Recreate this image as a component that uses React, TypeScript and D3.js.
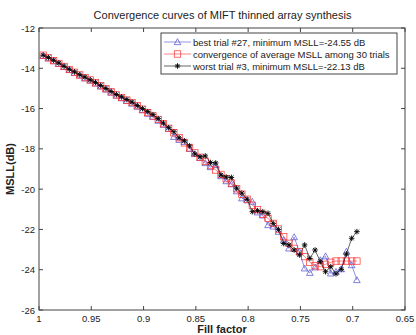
import React from "react";
import * as d3 from "d3";

const fillStart = 0.996;
const fillStep = 0.005;

const averageMSLL = [
  -13.35, -13.48, -13.62, -13.76, -13.91, -14.06, -14.2, -14.33, -14.46, -14.58,
  -14.72, -14.86, -15.01, -15.17, -15.32, -15.45, -15.58, -15.7, -15.86, -16.03,
  -16.2, -16.37, -16.54, -16.75, -16.98, -17.2, -17.45, -17.7, -17.95, -18.2,
  -18.42, -18.62, -18.83, -19.05, -19.27, -19.48, -19.7, -19.98, -20.25, -20.5,
  -20.8, -21.02, -21.25, -21.45, -21.7, -21.98, -22.36, -22.69, -22.94, -23.1,
  -23.35, -23.63, -23.8, -23.85, -23.73, -23.63, -23.57, -23.57, -23.57, -23.57,
  -23.57,
];

const bestMSLL = [
  -13.38, -13.5, -13.64, -13.78, -13.93, -14.08, -14.22, -14.35, -14.5, -14.6,
  -14.75, -14.9, -15.05, -15.2, -15.35, -15.48, -15.62, -15.75, -15.9, -16.08,
  -16.25, -16.4, -16.6, -16.8, -17.0, -17.4, -17.55, -17.65, -18.0, -18.25,
  -18.45, -18.7, -18.9, -18.8, -19.35, -19.6, -19.75, -20.1, -20.45, -20.55,
  -20.62, -21.15, -21.3, -21.78, -21.85, -22.11, -22.53, -22.94, -22.38, -23.1,
  -23.93, -24.15, -23.88, -23.52, -23.33, -24.18, -24.1, -23.97, -23.1, -23.77,
  -24.51,
];

const worstMSLL = [
  -13.35, -13.47, -13.6, -13.74, -13.9, -14.05, -14.18, -14.32, -14.44, -14.58,
  -14.7, -14.85, -15.0, -15.15, -15.3, -15.42, -15.55, -15.68, -15.85, -16.0,
  -16.15, -16.3, -16.5, -16.72, -16.95, -17.15, -17.45, -17.6, -17.85, -18.25,
  -18.4, -18.35, -18.68, -18.7, -19.3, -19.4, -19.42, -19.95, -20.2, -20.5,
  -21.12, -21.07, -21.12, -21.2, -21.7, -22.0, -22.7, -22.77, -23.02, -23.27,
  -22.77, -23.44, -23.02, -23.6, -24.1, -23.85, -24.2, -23.98, -23.22, -22.44,
  -22.11,
];

const xTicks = [1, 0.95, 0.9, 0.85, 0.8, 0.75, 0.7, 0.65];
const xTickLabels = ["1", "0.95", "0.9", "0.85", "0.8", "0.75", "0.7", "0.65"];
const yTicks = [-26, -24, -22, -20, -18, -16, -14, -12];
const yTickLabels = ["-26", "-24", "-22", "-20", "-18", "-16", "-14", "-12"];

const legendLabels = [
  "best trial #27, minimum MSLL=-24.55 dB",
  "convergence of average MSLL among 30 trials",
  "worst trial #3, minimum MSLL=-22.13 dB",
];

const W = 416;
const H = 335;
const L = 39, R = 405, T = 28, B = 310;
const FONT = "'Liberation Sans', Arial, sans-serif";
const AX = "#444";
const TXT = "#222";
const BLUE = "#4a4ad0";
const RED = "#ff3030";
const BLACK = "#000";

function tri(cx: number, cy: number, s = 3.3) {
  return `M${cx},${cy - s} L${cx + s},${cy + s * 0.8} L${cx - s},${cy + s * 0.8} Z`;
}

function Star({ x, y, s = 2.8 }: { x: number; y: number; s?: number }) {
  const d = s * 0.72;
  return (
    <path
      d={`M${x - s},${y}H${x + s}M${x},${y - s}V${y + s}M${x - d},${y - d}L${x + d},${y + d}M${x - d},${y + d}L${x + d},${y - d}`}
      stroke={BLACK}
      strokeWidth={0.9}
      fill="none"
    />
  );
}

export default function App() {
  const x = d3.scaleLinear().domain([1, 0.65]).range([L, R]);
  const y = d3.scaleLinear().domain([-26, -12]).range([B, T]);
  const fills = averageMSLL.map((_, i) => fillStart - fillStep * i);
  const line = d3
    .line<number>()
    .x((_, i) => x(fills[i]))
    .y((v) => y(v));

  const legX = 161, legY = 33, legW = 236, legH = 41;
  const rowY = [42, 54, 66];

  return (
    <svg width={W} height={H} style={{ position: "absolute", left: 0, top: 0, background: "#fff" }}>
      <rect x={0} y={0} width={W} height={H} fill="#fff" />
      <text x={(L + R) / 2 + 0.5} y={19} textAnchor="middle" fontFamily={FONT} fontSize={11} fill={TXT}>
        Convergence curves of MIFT thinned array synthesis
      </text>
      <rect x={L} y={T} width={R - L} height={B - T} fill="none" stroke={AX} strokeWidth={1} />
      {xTicks.map((t, i) => (
        <g key={"xt" + i}>
          <line x1={x(t)} x2={x(t)} y1={B} y2={B - 4} stroke={AX} />
          <line x1={x(t)} x2={x(t)} y1={T} y2={T + 4} stroke={AX} />
          <text x={x(t)} y={322} textAnchor="middle" fontFamily={FONT} fontSize={9.5} fill={TXT}>
            {xTickLabels[i]}
          </text>
        </g>
      ))}
      {yTicks.map((t, i) => (
        <g key={"yt" + i}>
          <line x1={L} x2={L + 4} y1={y(t)} y2={y(t)} stroke={AX} />
          <line x1={R} x2={R - 4} y1={y(t)} y2={y(t)} stroke={AX} />
          <text x={35} y={y(t) + 3.5} textAnchor="end" fontFamily={FONT} fontSize={9.5} fill={TXT}>
            {yTickLabels[i]}
          </text>
        </g>
      ))}
      <text x={(L + R) / 2} y={333} textAnchor="middle" fontFamily={FONT} fontSize={11} fontWeight="bold" fill={TXT}>
        Fill factor
      </text>
      <text
        transform={`translate(14,${(T + B) / 2}) rotate(-90)`}
        textAnchor="middle"
        fontFamily={FONT}
        fontSize={11}
        fontWeight="bold"
        fill={TXT}
      >
        MSLL(dB)
      </text>

      <path d={line(bestMSLL) || ""} fill="none" stroke={BLUE} strokeWidth={0.6} />
      {bestMSLL.map((v, i) => (
        <path key={"b" + i} d={tri(x(fills[i]), y(v))} fill="none" stroke={BLUE} strokeWidth={0.7} />
      ))}
      <path d={line(averageMSLL) || ""} fill="none" stroke={RED} strokeWidth={0.6} />
      {averageMSLL.map((v, i) => (
        <rect key={"a" + i} x={x(fills[i]) - 3.2} y={y(v) - 3.2} width={6.4} height={6.4} fill="none" stroke={RED} strokeWidth={0.7} />
      ))}
      <path d={line(worstMSLL) || ""} fill="none" stroke={BLACK} strokeWidth={0.6} />
      {worstMSLL.map((v, i) => (
        <Star key={"w" + i} x={x(fills[i])} y={y(v)} />
      ))}

      <rect x={legX} y={legY} width={legW} height={legH} fill="#fff" stroke={AX} strokeWidth={1} />
      <line x1={164} x2={191} y1={rowY[0]} y2={rowY[0]} stroke={BLUE} strokeWidth={0.6} />
      <path d={tri(177.5, rowY[0])} fill="none" stroke={BLUE} strokeWidth={0.7} />
      <line x1={164} x2={191} y1={rowY[1]} y2={rowY[1]} stroke={RED} strokeWidth={0.6} />
      <rect x={177.5 - 3.2} y={rowY[1] - 3.2} width={6.4} height={6.4} fill="none" stroke={RED} strokeWidth={0.7} />
      <line x1={164} x2={191} y1={rowY[2]} y2={rowY[2]} stroke={BLACK} strokeWidth={0.6} />
      <Star x={177.5} y={rowY[2]} />
      {legendLabels.map((s, i) => (
        <text key={"l" + i} x={193} y={rowY[i] + 3.5} fontFamily={FONT} fontSize={9.5} fill={TXT}>
          {s}
        </text>
      ))}
    </svg>
  );
}
